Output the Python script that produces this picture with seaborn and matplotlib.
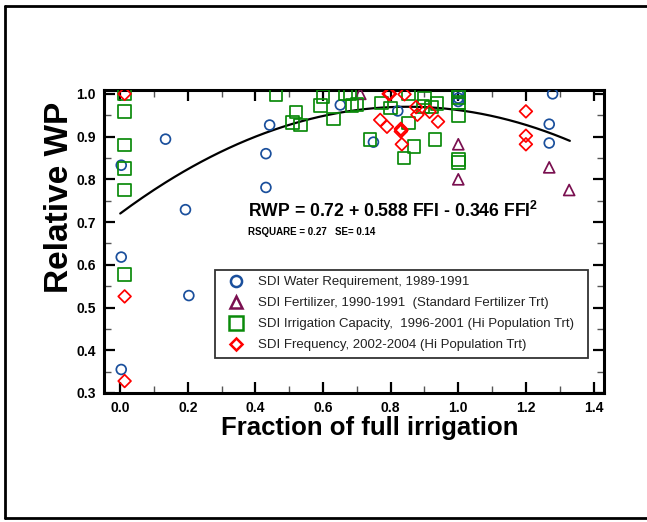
import numpy as np
import pandas as pd
import matplotlib
matplotlib.use("Agg")
import matplotlib.pyplot as plt
import seaborn as sns
from matplotlib.lines import Line2D
from matplotlib.ticker import MultipleLocator, FormatStrFormatter

# ---------------- data ----------------
wr_x = [0.003, 0.003, 0.003, 0.134, 0.193, 0.203, 0.431, 0.431, 0.442, 0.651,
        0.749, 0.821, 1.0, 1.0, 1.0, 1.279, 1.269, 1.269]
wr_y = [0.833, 0.618, 0.355, 0.894, 0.729, 0.528, 0.860, 0.781, 0.927, 0.974,
        0.887, 0.960, 1.000, 0.990, 0.982, 1.000, 0.929, 0.885]

fert_x = [0.71, 1.0, 1.0, 1.269, 1.328]
fert_y = [1.000, 0.882, 0.800, 0.828, 0.775]

cap_x = [0.013, 0.013, 0.013, 0.013, 0.013, 0.013, 0.461, 0.52, 0.51, 0.533,
         0.60, 0.592, 0.631, 0.666, 0.68, 0.685, 0.70, 0.739, 0.772, 0.80,
         0.853, 0.852, 0.869, 0.84, 0.90, 0.895, 0.92, 0.937, 0.931,
         1.0, 1.0, 1.0, 1.0, 1.0, 1.0]
cap_y = [1.000, 0.959, 0.880, 0.825, 0.775, 0.577, 0.998, 0.958, 0.933, 0.927,
         0.994, 0.973, 0.941, 1.000, 1.000, 0.973, 0.975, 0.893, 0.979, 0.967,
         1.000, 0.932, 0.877, 0.850, 0.990, 0.970, 0.969, 0.978, 0.893,
         1.004, 0.992, 0.980, 0.949, 0.846, 0.839]

freq_x = [0.013, 0.013, 0.013, 0.769, 0.789, 0.794, 0.798, 0.830, 0.830, 0.832,
          0.833, 0.841, 0.875, 0.879, 0.915, 0.940, 1.2, 1.2, 1.2]
freq_y = [1.000, 0.526, 0.328, 0.939, 0.923, 1.000, 1.000, 0.918, 0.912, 0.915,
          0.882, 0.999, 0.969, 0.951, 0.958, 0.935, 0.959, 0.902, 0.882]

series_labels = ["SDI Water Requirement, 1989-1991",
                 "SDI Fertilizer, 1990-1991  (Standard Fertilizer Trt)",
                 "SDI Irrigation Capacity,  1996-2001 (Hi Population Trt)",
                 "SDI Frequency, 2002-2004 (Hi Population Trt)"]

# fitted regression RWP = b0 + b1*FFI + b2*FFI^2
coef = [0.72, 0.588, -0.346]
fit_range = [0.0, 1.33]

x_ticks = [0.0, 0.2, 0.4, 0.6, 0.8, 1.0, 1.2, 1.4]
y_ticks = [0.3, 0.4, 0.5, 0.6, 0.7, 0.8, 0.9, 1.0]

# ---------------- style ----------------
sns.set_theme(style="ticks")
plt.rcParams["font.family"] = ["Liberation Sans", "DejaVu Sans"]
plt.rcParams["mathtext.fontset"] = "custom"
plt.rcParams["mathtext.rm"] = "Liberation Sans:bold"
plt.rcParams["mathtext.bf"] = "Liberation Sans:bold"

fig = plt.figure(figsize=(6.47, 5.22), dpi=100)
ax = fig.add_axes([104 / 647, 1 - 393 / 522, 500 / 647, 303 / 522])

styles = [
    (wr_x, wr_y, "o", "#1a4f9c", 50),
    (fert_x, fert_y, "^", "#7a1050", 62),
    (cap_x, cap_y, "s", "#0a8a0a", 82),
    (freq_x, freq_y, "D", "#ff0000", 42),
]

handles = []
for (xs, ys, mk, col, sz), lab in zip(styles, series_labels):
    df = pd.DataFrame({"x": xs, "y": ys})
    sns.scatterplot(data=df, x="x", y="y", marker=mk, s=sz, color=col,
                    linewidth=1.25, ax=ax, zorder=3, legend=False)
    coll = ax.collections[-1]
    coll.set_facecolor("none")
    coll.set_edgecolor(col)
    handles.append(Line2D([], [], marker=mk, linestyle="none",
                          markerfacecolor="none", markeredgecolor=col,
                          markeredgewidth=1.8,
                          markersize={"o": 8, "^": 8, "s": 9.5, "D": 6.5}[mk],
                          label=lab))

xx = np.linspace(fit_range[0], fit_range[1], 200)
yy = coef[0] + coef[1] * xx + coef[2] * xx ** 2
sns.lineplot(x=xx, y=yy, color="black", linewidth=1.6, ax=ax, zorder=2)

ax.set_xlim(-0.048, 1.431)
ax.set_ylim(0.3, 1.009)
ax.set_xticks(x_ticks)
ax.set_yticks(y_ticks)
ax.xaxis.set_minor_locator(MultipleLocator(0.1))
ax.yaxis.set_minor_locator(MultipleLocator(0.05))
ax.xaxis.set_major_formatter(FormatStrFormatter("%.1f"))
ax.yaxis.set_major_formatter(FormatStrFormatter("%.1f"))

for s in ax.spines.values():
    s.set_linewidth(2.2)
    s.set_color("black")
    s.set_visible(True)

ax.tick_params(which="major", direction="in", length=8, width=1.6,
               top=True, right=True, color="black")
ax.tick_params(which="minor", direction="in", length=5, width=1.0,
               top=True, right=True, color="#555555")
ax.tick_params(axis="x", which="major", pad=6)
ax.tick_params(axis="y", which="major", pad=6)
for lbl in ax.get_xticklabels() + ax.get_yticklabels():
    lbl.set_fontweight("bold")
    lbl.set_fontsize(10)
    lbl.set_color("black")

ax.set_xlabel("Fraction of full irrigation", fontsize=18.5, fontweight="bold",
              color="black")
ax.xaxis.set_label_coords(0.532, -0.075)
ax.set_ylabel("Relative WP", fontsize=24, fontweight="bold", color="black")
ax.yaxis.set_label_coords(-0.058, 0.647)

ax.text(0.379, 0.726, r"RWP = 0.72 + 0.588 FFI - 0.346 FFI$^{2}$",
        fontsize=12.7, fontweight="bold", color="black", va="center",
        ha="left", zorder=4)
ax.text(0.379, 0.677, "RSQUARE = 0.27   SE= 0.14", fontsize=7,
        fontweight="bold", color="black", va="center", ha="left", zorder=4)

leg = ax.legend(handles=handles, loc="lower left",
                bbox_to_anchor=(0.222, 0.116, 0.746, 0.0), mode="expand",
                frameon=True, fancybox=False, fontsize=9.5,
                handletextpad=0.55, borderpad=0.5, labelspacing=0.66,
                handlelength=2.2, borderaxespad=0)
leg.get_frame().set_edgecolor("black")
leg.get_frame().set_linewidth(1.3)
for t in leg.get_texts():
    t.set_color("#222222")

# figure frame lines
fig.add_artist(Line2D([5 / 647, 1.0], [1 - 6 / 522, 1 - 6 / 522],
                      transform=fig.transFigure, color="black", linewidth=2))
fig.add_artist(Line2D([5 / 647, 1.0], [1 - 518 / 522, 1 - 518 / 522],
                      transform=fig.transFigure, color="black", linewidth=2))
fig.add_artist(Line2D([5 / 647, 5 / 647], [1 - 6 / 522, 1 - 518 / 522],
                      transform=fig.transFigure, color="black", linewidth=2))

fig.savefig("out.png", dpi=100)
